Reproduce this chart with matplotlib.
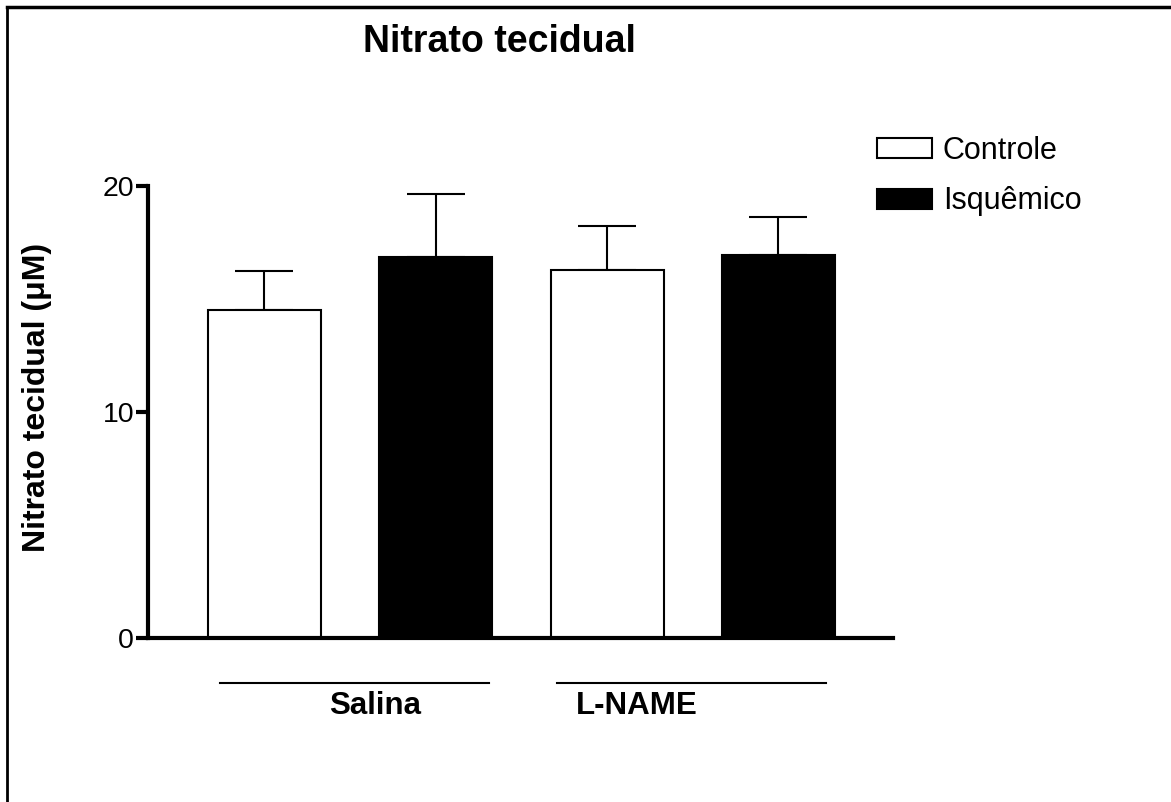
import matplotlib
matplotlib.use("Agg")
import matplotlib.pyplot as plt
from matplotlib.patches import Patch
from matplotlib.lines import Line2D

plt.rcParams['font.family'] = ['Liberation Sans', 'DejaVu Sans']

groups = ["Salina", "L-NAME"]
series = ["Controle", "Isquêmico"]
means = [14.5, 16.85, 16.28, 16.93]
errs = [1.74, 2.78, 1.95, 1.72]
bar_colors = ["white", "black", "white", "black"]
yticks = [0, 10, 20]

W, H = 1171, 802
fig = plt.figure(figsize=(W / 100, H / 100), dpi=100)

def fx(px):
    return px / W

def fy(py):
    return 1 - py / H

ax = fig.add_axes([fx(148), fy(638), fx(893) - fx(148), fy(186) - fy(638)])
x = [0, 1, 2, 3]
ax.bar(x, means, width=0.66, color=bar_colors, edgecolor="black", linewidth=1.5, zorder=2)
ax.errorbar(x, means, yerr=[[0] * 4, errs], fmt="none", ecolor="black",
            elinewidth=1.5, capsize=21, capthick=1.5, zorder=1, clip_on=False)

ax.set_xlim(-0.68, 3.669)
ax.set_ylim(0, 20)
ax.set_yticks(yticks)
ax.set_yticklabels([str(t) for t in yticks], fontsize=20.5)
ax.set_xticks([])
for s in ["top", "right"]:
    ax.spines[s].set_visible(False)
for s in ["left", "bottom"]:
    ax.spines[s].set_linewidth(3)
ax.tick_params(axis="y", direction="out", length=9, width=3, pad=1)

# title and y label
fig.text(fx(499), fy(42), "Nitrato tecidual", fontsize=27, fontweight="bold",
         ha="center", va="center")
fig.text(fx(37), fy(397), "Nitrato tecidual (μM)", fontsize=23, fontweight="bold",
         rotation=90, ha="center", va="center")

# group labels with underline
line_spans = [(-0.26, 1.31), (1.71, 3.28)]
label_x = [0.645, 2.175]
for g, (a, b), lx in zip(groups, line_spans, label_x):
    ax.plot([a, b], [-0.1, -0.1], transform=ax.get_xaxis_transform(),
            color="black", lw=1.5, clip_on=False)
    ax.text(lx, -0.151, g, transform=ax.get_xaxis_transform(), fontsize=22.5,
            fontweight="bold", ha="center", va="center")

# legend
handles = [Patch(facecolor="white", edgecolor="black", linewidth=1.5),
           Patch(facecolor="black", edgecolor="black", linewidth=1.5)]
fig.legend(handles, series, loc="upper left", bbox_to_anchor=(fx(877), fy(136)),
           frameon=False, fontsize=22, handlelength=1.8, handleheight=0.62,
           handletextpad=0.36, labelspacing=0.67, borderaxespad=0, borderpad=0)

# figure border (left and top)
fig.add_artist(Line2D([fx(7), fx(7)], [0, fy(7)], color="black", lw=2))
fig.add_artist(Line2D([fx(7), fx(1170)], [fy(7), fy(7)], color="black", lw=2.5))

fig.savefig("out.png", dpi=100)
